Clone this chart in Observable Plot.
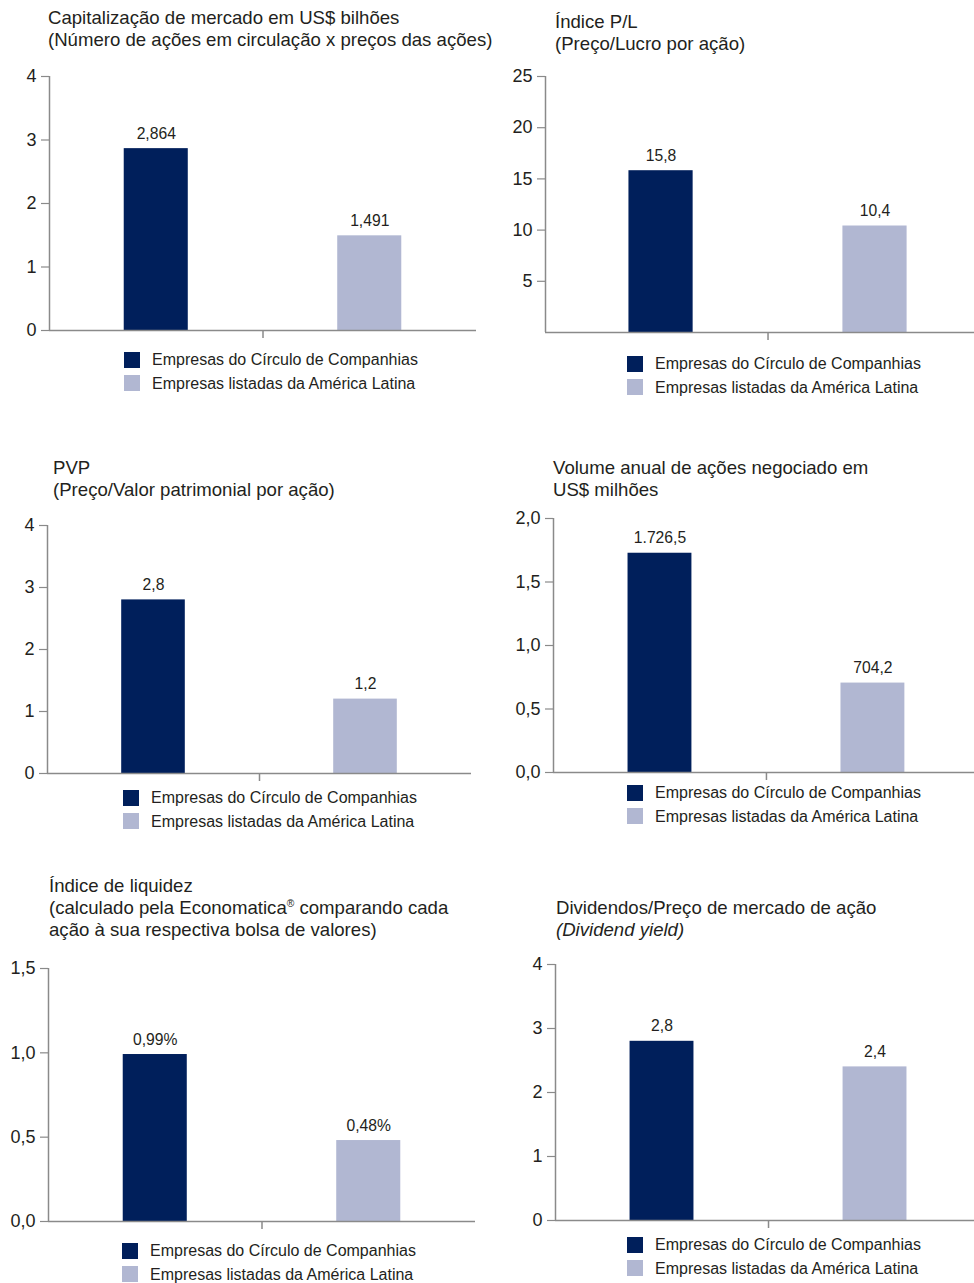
<!DOCTYPE html>
<html>
<head>
<meta charset="utf-8">
<script src="https://cdn.jsdelivr.net/npm/d3@7"></script>
<script src="https://cdn.jsdelivr.net/npm/@observablehq/plot@0.6"></script>
<style>
  html, body { margin: 0; padding: 0; background: #fff; }
  #page { position: relative; width: 974px; height: 1283px; overflow: hidden; font-family: "Liberation Sans", Arial, Helvetica, sans-serif; color: #231f20; }
  .title { position: absolute; font-size: 18.6px; line-height: 22px; white-space: nowrap; }
  .legend { position: absolute; font-size: 16px; line-height: 23.5px; white-space: nowrap; }
  .legend .row { display: flex; align-items: center; }
  .legend .sw { width: 16px; height: 16px; margin-right: 12px; flex: none; }
  .chart { position: absolute; }
  sup { font-size: 0.55em; vertical-align: 0.7em; line-height: 0; }
</style>
</head>
<body>
<div id="page"></div>
<script>
// ---- data ----
const categories = ["Empresas do Círculo de Companhias", "Empresas listadas da América Latina"];
const colors = ["#001f5b", "#b1b7d2"];

const titles = [
  ["Capitalização de mercado em US$ bilhões", "(Número de ações em circulação x preços das ações)"],
  ["Índice P/L", "(Preço/Lucro por ação)"],
  ["PVP", "(Preço/Valor patrimonial por ação)"],
  ["Volume anual de ações negociado em", "US$ milhões"],
  ["Índice de liquidez", "(calculado pela Economatica<sup>®</sup> comparando cada", "ação à sua respectiva bolsa de valores)"],
  ["Dividendos/Preço de mercado de ação", "<i>(Dividend yield)</i>"]
];

const capValues = [2.864, 1.491];
const capLabels = ["2,864", "1,491"];
const capTicks = [0, 1, 2, 3, 4];
const capTickLabels = ["0", "1", "2", "3", "4"];

const plValues = [15.8, 10.4];
const plLabels = ["15,8", "10,4"];
const plTicks = [5, 10, 15, 20, 25];
const plTickLabels = ["5", "10", "15", "20", "25"];

const pvpValues = [2.8, 1.2];
const pvpLabels = ["2,8", "1,2"];
const pvpTicks = [0, 1, 2, 3, 4];
const pvpTickLabels = ["0", "1", "2", "3", "4"];

const volValues = [1.7265, 0.7042];
const volLabels = ["1.726,5", "704,2"];
const volTicks = [0, 0.5, 1, 1.5, 2];
const volTickLabels = ["0,0", "0,5", "1,0", "1,5", "2,0"];

const liqValues = [0.99, 0.48];
const liqLabels = ["0,99%", "0,48%"];
const liqTicks = [0, 0.5, 1, 1.5];
const liqTickLabels = ["0,0", "0,5", "1,0", "1,5"];

const divValues = [2.8, 2.4];
const divLabels = ["2,8", "2,4"];
const divTicks = [0, 1, 2, 3, 4];
const divTickLabels = ["0", "1", "2", "3", "4"];

// ---- layout (positions only) ----
const panels = [
  {values: capValues, labels: capLabels, ticks: capTicks, tickLabels: capTickLabels, svgLeft: 0,   axisX: 49,  right: 476, yTop: 76,  y0: 330,  xDom: [0, 2],
   title: {x: 48, y: 7}, legend: {x: 124, y: 348}},
  {values: plValues, labels: plLabels, ticks: plTicks, tickLabels: plTickLabels, svgLeft: 487, axisX: 545, right: 974, yTop: 76,  y0: 332,  xDom: [-0.04, 1.965],
   title: {x: 555, y: 11}, legend: {x: 627, y: 352}},
  {values: pvpValues, labels: pvpLabels, ticks: pvpTicks, tickLabels: pvpTickLabels, svgLeft: 0,   axisX: 47,  right: 471, yTop: 525, y0: 773,  xDom: [0, 2],
   title: {x: 53, y: 457}, legend: {x: 123, y: 786}},
  {values: volValues, labels: volLabels, ticks: volTicks, tickLabels: volTickLabels, svgLeft: 487, axisX: 553, right: 974, yTop: 518, y0: 772,  xDom: [0, 1.977],
   title: {x: 553, y: 457}, legend: {x: 627, y: 781}},
  {values: liqValues, labels: liqLabels, ticks: liqTicks, tickLabels: liqTickLabels, svgLeft: 0,   axisX: 48,  right: 475, yTop: 968, y0: 1221, xDom: [0, 2],
   title: {x: 49, y: 875}, legend: {x: 122, y: 1239}},
  {values: divValues, labels: divLabels, ticks: divTicks, tickLabels: divTickLabels, svgLeft: 487, axisX: 555, right: 974, yTop: 964, y0: 1220, xDom: [0, 1.967],
   title: {x: 556, y: 897}, legend: {x: 627, y: 1233}}
];

const page = document.getElementById("page");
const axisGray = "#8a8a8a";

panels.forEach((p, k) => {
  // title
  const t = document.createElement("div");
  t.className = "title";
  t.style.left = p.title.x + "px";
  t.style.top = p.title.y + "px";
  t.innerHTML = titles[k].join("<br>");
  page.appendChild(t);

  const rows = p.values.map((v, i) => ({i, value: v, label: p.labels[i], cat: categories[i]}));
  const mt = 22, mb = 14;
  const height = mt + (p.y0 - p.yTop) + mb;
  const width = 487;
  const yMax = p.ticks[p.ticks.length - 1];
  const chart = Plot.plot({
    width, height,
    marginLeft: p.axisX - p.svgLeft,
    marginRight: p.svgLeft + width - p.right,
    marginTop: mt, marginBottom: mb,
    style: {fontFamily: '"Liberation Sans", Arial, Helvetica, sans-serif', color: "#231f20", background: "transparent", overflow: "visible"},
    x: {domain: p.xDom, axis: null},
    y: {domain: [0, yMax], axis: null},
    color: {domain: categories, range: colors},
    marks: [
      Plot.rectY(rows, {x1: d => d.i + 0.35, x2: d => d.i + 0.65, y1: 0, y2: "value", fill: "cat"}),
      Plot.ruleY([0], {stroke: axisGray, strokeWidth: 1.5}),
      Plot.ruleX([p.xDom[0]], {y1: 0, y2: yMax, stroke: axisGray, strokeWidth: 1.5}),
      Plot.axisY({ticks: p.ticks, tickFormat: d => p.tickLabels[p.ticks.indexOf(d)], tickSize: 8, tickPadding: 5, fontSize: 18, stroke: axisGray, strokeWidth: 1.2, fill: "#231f20", label: null}),
      Plot.axisX({ticks: [1], tickFormat: () => "", tickSize: 8, stroke: axisGray, strokeWidth: 1.5, label: null}),
      Plot.text(rows, {x: d => d.i + 0.5, y: "value", text: "label", dy: -15, fontSize: 15.7, fill: "#231f20"})
    ]
  });
  chart.classList.add("chart");
  chart.style.left = p.svgLeft + "px";
  chart.style.top = (p.yTop - mt) + "px";
  page.appendChild(chart);

  // legend
  const lg = document.createElement("div");
  lg.className = "legend";
  lg.style.left = p.legend.x + "px";
  lg.style.top = p.legend.y + "px";
  categories.forEach((c, i) => {
    const r = document.createElement("div");
    r.className = "row";
    r.innerHTML = `<span class="sw" style="background:${colors[i]}"></span><span>${c}</span>`;
    lg.appendChild(r);
  });
  page.appendChild(lg);
});
</script>
</body>
</html>
